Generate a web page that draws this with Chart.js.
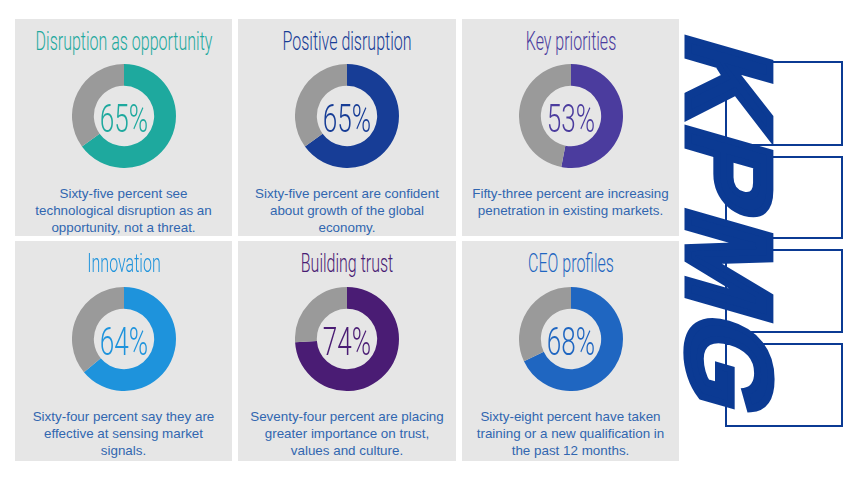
<!DOCTYPE html>
<html>
<head>
<meta charset="utf-8">
<script src="https://cdn.jsdelivr.net/npm/chart.js@4.4.1/dist/chart.umd.min.js"></script>
<style>
  body { margin: 0; width: 850px; height: 478px; background: #fff; position: relative; overflow: hidden; }
  .panel { position: absolute; background: #e6e6e6; }
  .title { position: absolute; left: 50%; top: 10px; font: 300 25px Roboto; line-height: 25px;
           white-space: nowrap; transform: translateX(-50%) scaleX(0.64); }
  .pct { position: absolute; left: 50%; font: 300 39px Roboto; line-height: 39px;
         white-space: nowrap; transform: translateX(-50%) scaleX(0.67); }
  .ring { position: absolute; width: 104px; height: 104px; }
  .desc { position: absolute; left: 0; right: 0; font: 13.4px "Liberation Sans", Arial, sans-serif;
          line-height: 17px; text-align: center; color: #3166b0; white-space: nowrap; }
  .logo { position: absolute; left: 845px; top: 38px; width: 0; height: 0;
          transform-origin: 0 0; transform: rotate(90deg); }
  .logo .box { position: absolute; top: 2px; height: 114px; border: 2px solid #0b3a93; }
  .logo .word { position: absolute; left: -7px; top: 56px; font: bold 119px "Liberation Sans", Arial, sans-serif;
                line-height: 119px; letter-spacing: 4px; color: #0b3a93; white-space: nowrap;
                -webkit-text-stroke: 7px #0b3a93; transform-origin: 0 101px;
                transform: skewX(-16deg); z-index: 2; }
</style>
</head>
<body>
<script>
// Chart data
const titles = ['Disruption as opportunity', 'Positive disruption', 'Key priorities',
                'Innovation', 'Building trust', 'CEO profiles'];
const values = [65, 65, 53, 64, 74, 68];
const descriptions = [
  ['Sixty-five percent see', 'technological disruption as an', 'opportunity, not a threat.'],
  ['Sixty-five percent are confident', 'about growth of the global', 'economy.'],
  ['Fifty-three percent are increasing', 'penetration in existing markets.'],
  ['Sixty-four percent say they are', 'effective at sensing market', 'signals.'],
  ['Seventy-four percent are placing', 'greater importance on trust,', 'values and culture.'],
  ['Sixty-eight percent have taken', 'training or a new qualification in', 'the past 12 months.']
];

// Styles and layout
const colors = ['#1ea99e', '#173d96', '#4b3c9e', '#1e93dc', '#4a1c74', '#1f66c1'];
const restColor = '#9a9a9a';
const colLeft = [15, 238, 462];
const colWidth = [217, 218, 217];
const rowTop = [19, 241];
const rowHeight = [217, 220];
const ringCenter = [97, 98];

titles.forEach((title, i) => {
  const row = Math.floor(i / 3), col = i % 3;
  const w = colWidth[col];
  const panel = document.createElement('div');
  panel.className = 'panel';
  panel.style.left = colLeft[col] + 'px';
  panel.style.top = rowTop[row] + 'px';
  panel.style.width = w + 'px';
  panel.style.height = rowHeight[row] + 'px';

  const t = document.createElement('div');
  t.className = 'title';
  t.style.color = colors[i];
  t.textContent = title;
  panel.appendChild(t);

  const wrap = document.createElement('div');
  wrap.className = 'ring';
  wrap.style.left = (w / 2 - 52) + 'px';
  wrap.style.top = (ringCenter[row] - 52) + 'px';
  const canvas = document.createElement('canvas');
  canvas.width = 104;
  canvas.height = 104;
  wrap.appendChild(canvas);
  panel.appendChild(wrap);

  const p = document.createElement('div');
  p.className = 'pct';
  p.style.top = (ringCenter[row] - 16) + 'px';
  p.style.color = colors[i];
  p.textContent = values[i] + '%';
  panel.appendChild(p);

  const d = document.createElement('div');
  d.className = 'desc';
  d.style.top = (166 + row) + 'px';
  d.innerHTML = descriptions[i].join('<br>');
  panel.appendChild(d);

  document.body.appendChild(panel);

  new Chart(canvas.getContext('2d'), {
    type: 'doughnut',
    data: {
      labels: ['Yes', 'Other'],
      datasets: [{
        data: [values[i], 100 - values[i]],
        backgroundColor: [colors[i], restColor],
        borderWidth: 0
      }]
    },
    options: {
      responsive: false,
      animation: false,
      cutout: '58%',
      layout: { padding: 0 },
      plugins: { legend: { display: false }, tooltip: { enabled: false } }
    }
  });
});

// KPMG logo, rotated
const logo = document.createElement('div');
logo.className = 'logo';
const boxU = [23, 118, 211, 305];
const boxW = [85, 83, 84, 84];
boxU.forEach((u, k) => {
  const b = document.createElement('div');
  b.className = 'box';
  b.style.left = u + 'px';
  b.style.width = (boxW[k] - 4) + 'px';
  logo.appendChild(b);
});
const word = document.createElement('div');
word.className = 'word';
word.textContent = 'KPMG';
logo.appendChild(word);
document.body.appendChild(logo);
</script>
</body>
</html>
